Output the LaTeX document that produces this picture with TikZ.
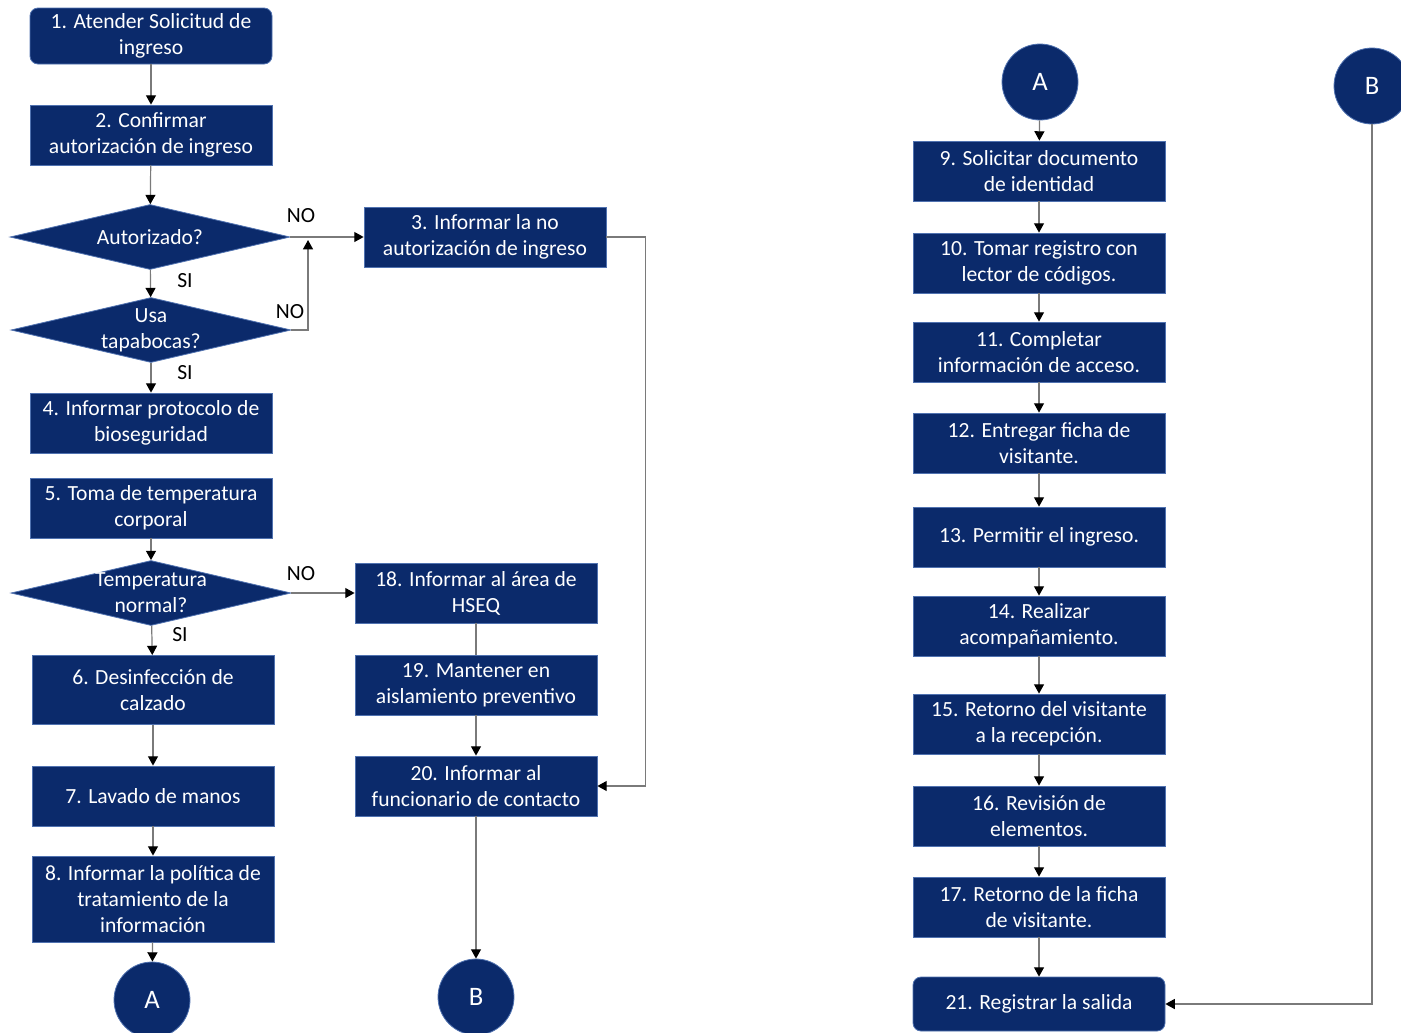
\documentclass[tikz,border=0pt]{standalone}
\usepackage{fontspec}
\setmainfont{Carlito}
\usetikzlibrary{shapes.geometric,arrows.meta}
\definecolor{navy}{HTML}{0B2A6B}
\definecolor{navyedge}{HTML}{5072B0}
\definecolor{linegray}{HTML}{7A7A7A}
\tikzset{every picture/.append style={font=\fontsize{16.2}{19.5}\selectfont}}
\tikzset{
  stepbox/.style={rectangle,fill=navy,draw=navyedge,line width=0.6pt,text=white,
    align=center,minimum width=181.5pt,minimum height=45pt,inner sep=1pt},
  widebox/.style={stepbox,minimum width=189pt},
  endbox/.style={rounded corners=6pt},
  decision/.style={diamond,fill=navy,draw=navyedge,line width=0.6pt,
    minimum width=210pt,minimum height=48.75pt,inner sep=0pt},
  dectext/.style={text=white,align=center,inner sep=0pt},
  connector/.style={circle,fill=navy,draw=navyedge,line width=0.6pt,text=white,
    minimum size=57pt,inner sep=0pt,font=\fontsize{20}{22}\selectfont},
  flow/.style={draw=linegray,line width=0.9pt,-{Triangle[width=7.5pt,length=7pt,color=black]}},
  plain/.style={draw=linegray,line width=0.9pt},
  answer/.style={text=black,inner sep=1pt}
}

\begin{document}
\begin{tikzpicture}[x=0.75pt,y=-0.75pt]
  \useasboundingbox (0,0) rectangle (1401,1032);

  % left column
  \node[stepbox,endbox,minimum height=42pt] (s1) at (151,36) {1. Atender Solicitud de\\ingreso};
  \node[stepbox] (s2) at (151,135) {2. Confirmar\\autorización de ingreso};
  \node[decision,label={[dectext]center:Autorizado?}] (aut) at (150,237) {};
  \node[decision,label={[dectext]center:Usa\\tapabocas?}] (usa) at (151,330) {};
  \node[stepbox] (s4) at (151,423) {4. Informar protocolo de\\bioseguridad};
  \node[stepbox] (s5) at (151,508) {5. Toma de temperatura\\corporal};
  \node[decision,label={[dectext]center:Temperatura\\normal?}] (temp) at (151,593) {};
  \node[stepbox,minimum height=51.75pt] (s6) at (153,690) {6. Desinfección de\\calzado};
  \node[stepbox] (s7) at (153,796) {7. Lavado de manos};
  \node[stepbox,minimum height=64.5pt] (s8) at (153,899) {8. Informar la política de\\tratamiento de la\\información};
  \node[connector] (outA) at (152,1000) {A};

  % middle column
  \node[stepbox] (s3) at (485,237) {3. Informar la no\\autorización de ingreso};
  \node[stepbox] (s18) at (476,593) {18. Informar al área de\\HSEQ};
  \node[stepbox] (s19) at (476,685) {19. Mantener en\\aislamiento preventivo};
  \node[stepbox] (s20) at (476,786) {20. Informar al\\funcionario de contacto};
  \node[connector] (outB) at (476,997) {B};

  % right column
  \node[connector] (inA) at (1040,82) {A};
  \node[connector] (inB) at (1372,86) {B};
  \foreach \n/\y/\txt in {9/171/{9. Solicitar documento\\de identidad},
      10/263/{10. Tomar registro con\\lector de códigos.},
      11/352/{11. Completar\\información de acceso.},
      12/443/{12. Entregar ficha de\\visitante.},
      13/537/{13. Permitir el ingreso.},
      14/626/{14. Realizar\\acompañamiento.},
      15/724/{15. Retorno del visitante\\a la recepción.},
      16/816/{16. Revisión de\\elementos.},
      17/907/{17. Retorno de la ficha\\de visitante.}}
    \node[widebox] (s\n) at (1039,\y) {\txt};
  \node[widebox,endbox,minimum height=40.5pt] (s21) at (1039,1004) {21. Registrar la salida};

  % connectors
  \draw[flow] (s1) -- (s2);
  \draw[flow] (s2) -- (aut);
  \draw[flow] (aut) -- (usa);
  \draw[flow] (usa) -- (s4);
  \draw[flow] (s5) -- (temp);
  \draw[flow] (temp) -- (s6);
  \draw[flow] (s6) -- (s7);
  \draw[flow] (s7) -- (s8);
  \draw[flow] (s8) -- (outA);
  \draw[flow] (aut.east) -- (s3.west);
  \coordinate (join) at (308,240);
  \draw[flow] (usa.east) -| (join);
  \draw[flow] (temp.east) -- (s18.west);
  \draw[plain] (s18) -- (s19);
  \draw[flow] (s19) -- (s20);
  \draw[flow] (s20) -- (outB);
  \draw[flow] (s3.east) -- ++(39,0) |- (s20.east);
  \draw[flow] (inA) -- (s9);
  \foreach \a/\b in {9/10,10/11,11/12,12/13,13/14,14/15,15/16,16/17,17/21}
    \draw[flow] (s\a) -- (s\b);
  \draw[flow] (inB.south) |- (s21.east);

  % answers
  \node[answer] (no1) at (301,216) {NO};
  \node[answer] (no2) at (290,312) {NO};
  \node[answer] (si1) at (185,281) {SI};
  \node[answer] (si2) at (185,373) {SI};
  \node[answer] (no3) at (301,574) {NO};
  \node[answer] (si3) at (180,635) {SI};
\end{tikzpicture}
\end{document}
